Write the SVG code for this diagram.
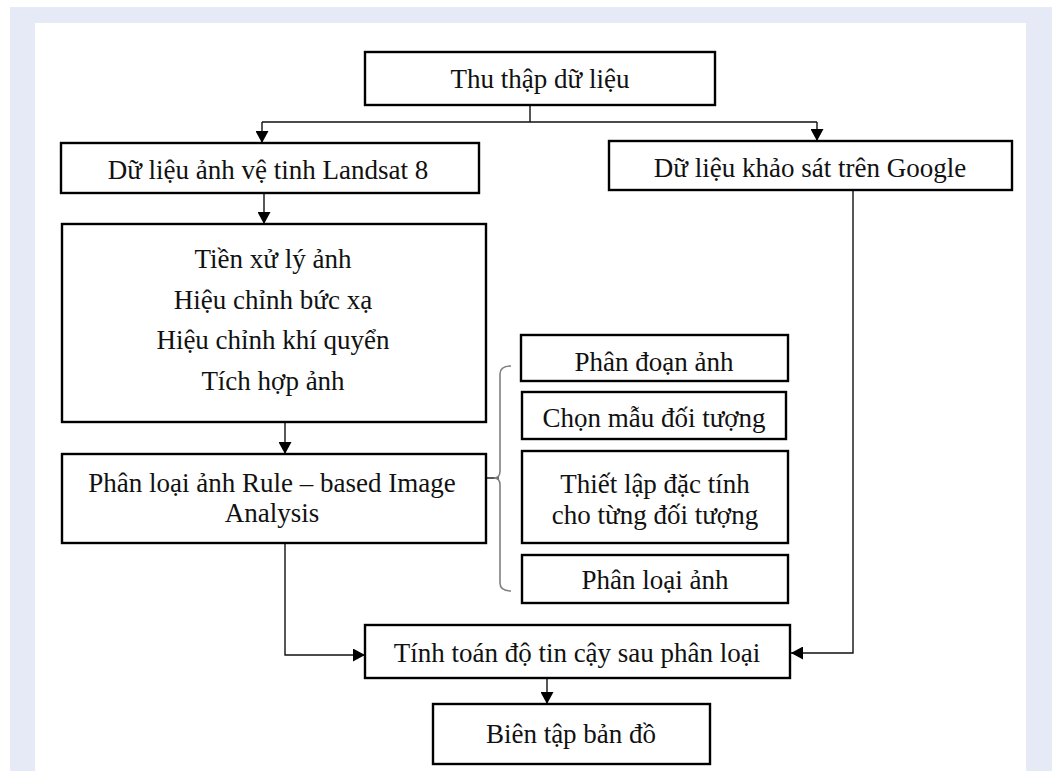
<svg xmlns="http://www.w3.org/2000/svg" width="1058" height="771" viewBox="0 0 1058 771">
<defs>
<style>
.box{fill:#ffffff;stroke:#000;stroke-width:2.4}
.t{font-family:"Liberation Serif","Times New Roman",serif;font-size:27px;fill:#111;text-anchor:middle}
.c{fill:none;stroke:#111;stroke-width:1.4}
.brace{fill:none;stroke:#808080;stroke-width:1.6}
</style>
<marker id="ah" markerUnits="userSpaceOnUse" markerWidth="12" markerHeight="13" viewBox="0 0 12 13" refX="12" refY="6.5" orient="auto">
<path d="M0,0 L12,6.5 L0,13 z" fill="#000"/>
</marker>
</defs>
<rect x="0" y="0" width="1058" height="771" fill="#ffffff"/>
<rect x="10" y="7" width="1042" height="764" fill="#e6eaf6"/>
<rect x="35" y="23" width="991" height="748" fill="#ffffff"/>

<g id="connectors">
<path class="c" d="M530,106 L530,122 M262,122 L817,122"/>
<path class="c" d="M262,122 L262,143" marker-end="url(#ah)"/>
<path class="c" d="M817,122 L817,141" marker-end="url(#ah)"/>
<path class="c" d="M264,193 L264,224" marker-end="url(#ah)"/>
<path class="c" d="M285,422 L285,454" marker-end="url(#ah)"/>
<path class="c" d="M285,543 L285,655 L365,655" marker-end="url(#ah)"/>
<path class="c" d="M853,190 L853,653 L791,653" marker-end="url(#ah)"/>
<path class="c" d="M547,679 L547,704" marker-end="url(#ah)"/>
<path class="c" d="M486,478 L499,478"/>
<path class="brace" d="M511,366 Q500,366 500,374 L500,471 Q500,478 494,478 Q500,478 500,485 L500,583 Q500,591 511,591"/>
</g>

<g id="n-thu-thap">
<rect class="box" x="365" y="52" width="350" height="53"/>
<text class="t" x="540" y="88">Thu thập dữ liệu</text>
</g>
<g id="n-landsat">
<rect class="box" x="61" y="143" width="418" height="50"/>
<text class="t" x="268" y="179">Dữ liệu ảnh vệ tinh Landsat 8</text>
</g>
<g id="n-google">
<rect class="box" x="609" y="141" width="403" height="49"/>
<text class="t" x="810" y="177">Dữ liệu khảo sát trên Google</text>
</g>
<g id="n-tien-xu-ly">
<rect class="box" x="62" y="224" width="424" height="198"/>
<text class="t" x="273" y="268">Tiền xử lý ảnh</text>
<text class="t" x="273" y="309">Hiệu chỉnh bức xạ</text>
<text class="t" x="273" y="349">Hiệu chỉnh khí quyển</text>
<text class="t" x="273" y="390">Tích hợp ảnh</text>
</g>
<g id="n-phan-loai-rule">
<rect class="box" x="62" y="454" width="424" height="89"/>
<text class="t" x="272" y="492">Phân loại ảnh Rule – based Image</text>
<text class="t" x="272" y="522">Analysis</text>
</g>
<g id="n-phan-doan">
<rect class="box" x="521" y="335" width="267" height="46"/>
<text class="t" x="654" y="371">Phân đoạn ảnh</text>
</g>
<g id="n-chon-mau">
<rect class="box" x="522" y="392" width="264" height="47"/>
<text class="t" x="654" y="427">Chọn mẫu đối tượng</text>
</g>
<g id="n-thiet-lap">
<rect class="box" x="522" y="451" width="266" height="92"/>
<text class="t" x="655" y="493">Thiết lập đặc tính</text>
<text class="t" x="655" y="524">cho từng đối tượng</text>
</g>
<g id="n-phan-loai-anh">
<rect class="box" x="522" y="555" width="266" height="48"/>
<text class="t" x="655" y="589">Phân loại ảnh</text>
</g>
<g id="n-tinh-toan">
<rect class="box" x="365" y="625" width="425" height="53"/>
<text class="t" x="577" y="662">Tính toán độ tin cậy sau phân loại</text>
</g>
<g id="n-bien-tap">
<rect class="box" x="433" y="704" width="277" height="60"/>
<text class="t" x="571" y="743">Biên tập bản đồ</text>
</g>
</svg>
